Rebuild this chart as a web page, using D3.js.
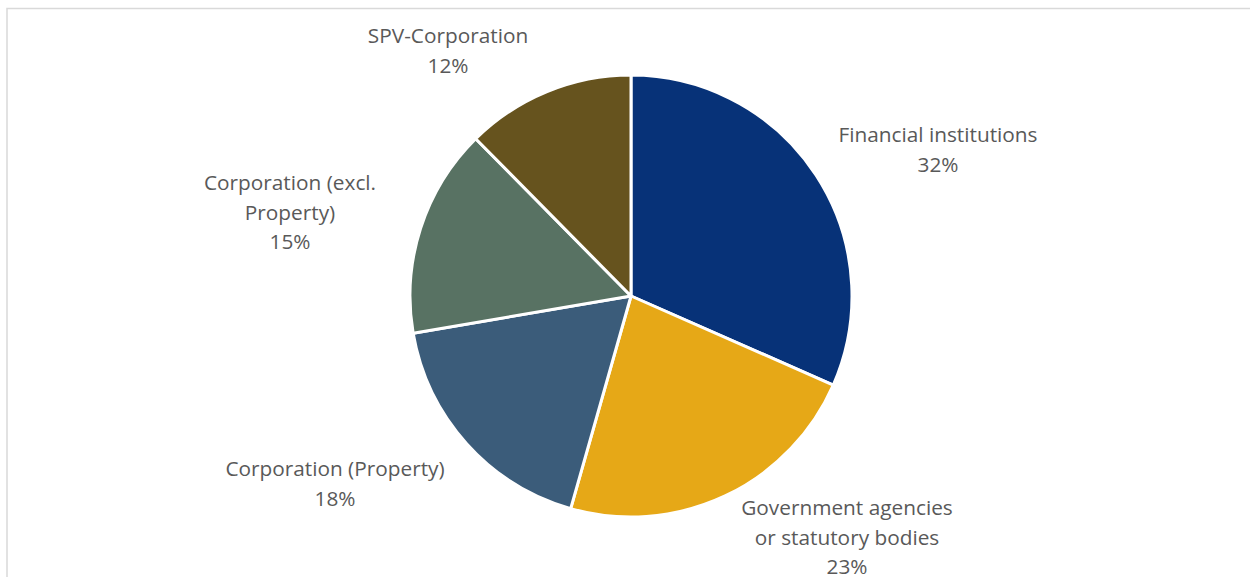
<!DOCTYPE html>
<html lang="en">
<head>
    <meta charset="UTF-8">
    <title>Pie</title>
    <script src="https://d3js.org/d3.v7.min.js"></script>
    <style>
        body {
            margin: 0;
            background: #fff;
        }
        text {
            font-family: "Open Sans", "Noto Sans", sans-serif;
            font-size: 20.8px;
            fill: #595959;
            text-anchor: middle;
        }
    </style>
</head>
<body>
<script>
    var categories = ["Financial institutions", "Government agencies or statutory bodies",
        "Corporation (Property)", "Corporation (excl. Property)", "SPV-Corporation"];
    var values = [31.6, 22.8, 17.9, 15.3, 12.4];
    var labelLines = [
        ["Financial institutions"],
        ["Government agencies", "or statutory bodies"],
        ["Corporation (Property)"],
        ["Corporation (excl.", "Property)"],
        ["SPV-Corporation"]
    ];
    var colors = ["#073278", "#e6a817", "#3b5c7a", "#587263", "#66531e"];

    // where Excel put the label blocks (centre x, first baseline y)
    var labelAt = [[938, 142], [847, 515], [335, 476], [290, 190], [448, 43]];

    var width = 1250, height = 577;
    var cx = 631, cy = 296, radius = 221;
    var lineH = 29.5;

    var svg = d3.select("body").append("svg")
        .attr("width", width)
        .attr("height", height);

    // chart frame (cut off at right and bottom)
    svg.append("rect")
        .attr("x", 7).attr("y", 8.5)
        .attr("width", width + 20).attr("height", height + 20)
        .attr("fill", "none")
        .attr("stroke", "#d9d9d9")
        .attr("stroke-width", 1.5);

    var total = d3.sum(values);
    var data = categories.map(function (c, i) {
        return {name: c, value: values[i], color: colors[i], lines: labelLines[i], pos: labelAt[i]};
    });

    var pie = d3.pie().sort(null).value(function (d) { return d.value; });
    var arc = d3.arc().innerRadius(0).outerRadius(radius);

    var g = svg.append("g").attr("transform", "translate(" + cx + "," + cy + ")");

    g.selectAll("path")
        .data(pie(data))
        .enter()
        .append("path")
        .attr("d", arc)
        .attr("fill", function (d) { return d.data.color; })
        .attr("stroke", "#fff")
        .attr("stroke-width", 3)
        .attr("stroke-linejoin", "round");

    var labels = svg.selectAll(".label")
        .data(data)
        .enter()
        .append("text")
        .attr("class", "label")
        .attr("transform", function (d) { return "translate(" + d.pos[0] + "," + d.pos[1] + ")"; });

    labels.each(function (d) {
        var t = d3.select(this);
        var pct = Math.round(d.value / total * 100) + "%";
        d.lines.concat([pct]).forEach(function (line, i) {
            t.append("tspan").attr("x", 0).attr("y", i * lineH).text(line);
        });
    });
</script>
</body>
</html>
